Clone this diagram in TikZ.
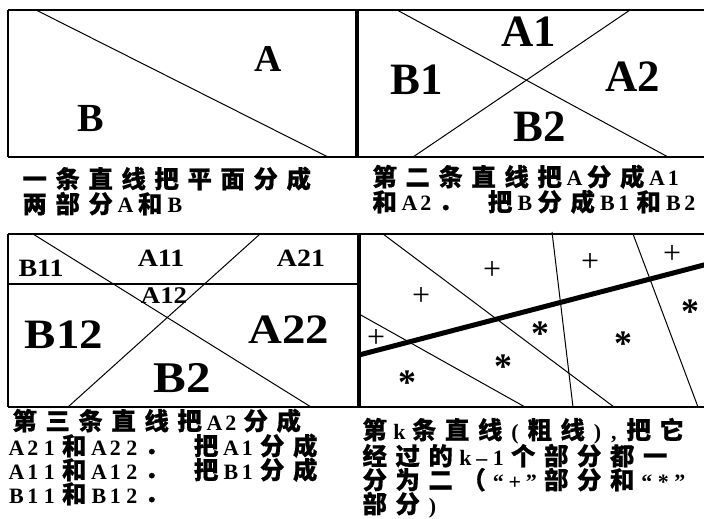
\documentclass[tikz,border=0pt]{standalone}
\usepackage{fontspec}
\setmainfont{Liberation Serif}
\newfontfamily\widefam[FakeStretch=1.12]{Liberation Serif}
\newfontfamily\cjkfam[BoldFeatures={FakeBold=0.6}]{Noto Sans CJK SC}
\newcommand\capline[1]{\caplinei#1\relax}
\def\caplinei#1{\ifx\relax#1\else\ifnum`#1>11000 \makebox[33bp]{\cjkfam\bfseries\fontsize{24.5}{24.5}\selectfont #1}\else\makebox[16.5bp]{\bfseries\fontsize{22}{22}\selectfont #1}\fi\expandafter\caplinei\fi}
\tikzset{
  border/.style={line width=1.6bp},
  divline/.style={line width=1bp},
  heavy/.style={line width=5bp},
  sepline/.style={line width=3.5bp},
  biglab/.style={font=\bfseries\fontsize{#1}{#1}\selectfont, anchor=base, inner sep=0},
  widelab/.style={font=\widefam\bfseries\fontsize{#1}{#1}\selectfont, anchor=base, inner sep=0},
  caption/.style={font=\fontsize{24}{24}\selectfont, anchor=base west, inner sep=0},
  plus/.style={font=\fontsize{32}{32}\selectfont, inner sep=0},
  star/.style={font=\bfseries\fontsize{36}{36}\selectfont, inner sep=0, yshift=-5bp},
}
\begin{document}
\begin{tikzpicture}[x=1bp,y=-1bp]
\useasboundingbox (0,0) rectangle (704,519);
% ---------- frames ----------
\draw[border] (8,10) -- (704,10);
\draw[border] (8,157) -- (704,157);
\draw[border] (8,10) -- (8,157);
\draw[sepline] (357,10) -- (357,157);
\draw[border] (8,234) -- (704,234);
\draw[border] (8,407) -- (704,407);
\draw[border] (8,234) -- (8,407);
\draw[sepline] (359,234) -- (359,407);
\draw[border] (8,284) -- (357,284);
% ---------- panel 1 ----------
\coordinate (p1a) at (36,10); \coordinate (p1b) at (328,157);
\draw[divline] (p1a) -- (p1b);
\node[biglab=38] (lA) at (268,72) {A};
\node[biglab=40] (lB) at (91,132) {B};
% ---------- panel 2 ----------
\coordinate (p2a) at (397,10); \coordinate (p2b) at (668,157);
\coordinate (p2c) at (630,10); \coordinate (p2d) at (413,157);
\draw[divline] (p2a) -- (p2b);
\draw[divline] (p2c) -- (p2d);
\node[biglab=45] (lA1) at (529,47) {A1};
\node[biglab=45] (lB1) at (417,95) {B1};
\node[biglab=45] (lA2) at (633,92) {A2};
\node[biglab=45] (lB2) at (540,142) {B2};
% ---------- panel 3 ----------
\coordinate (p3a) at (33,234); \coordinate (p3b) at (311,407);
\coordinate (p3c) at (260,234); \coordinate (p3d) at (68,407);
\draw[divline] (p3a) -- (p3b);
\draw[divline] (p3c) -- (p3d);
\node[widelab=25] (lB11) at (41,277) {B11};
\node[widelab=25] (lA11) at (161,267) {A11};
\node[widelab=25] (lA21) at (301,267) {A21};
\node[widelab=24] (lA12) at (164,303) {A12};
\node[widelab=42] (lB12) at (64,348) {B12};
\node[widelab=42] (lA22) at (289,343) {A22};
\node[widelab=44] (lB2b) at (182,392) {B2};
% ---------- panel 4 ----------
\coordinate (k1) at (359,355); \coordinate (k2) at (710,263.4);
\coordinate (a1) at (383,234); \coordinate (a2) at (614,407);
\coordinate (b1) at (359,314); \coordinate (b2) at (525,407);
\coordinate (c1) at (552,232); \coordinate (c2) at (573,407);
\coordinate (d1) at (633,234); \coordinate (d2) at (698,407);
\draw[divline] (a1) -- (a2);
\draw[divline] (b1) -- (b2);
\draw[divline] (c1) -- (c2);
\draw[divline] (d1) -- (d2);
\draw[heavy] (k1) -- (k2);
\node[plus] (pl1) at (492,270) {+};
\node[plus] (pl2) at (421,296) {+};
\node[plus] (pl3) at (590,262) {+};
\node[plus] (pl4) at (672,254) {+};
\node[plus] (pl5) at (376,338) {+};
\node[star] (st1) at (540,329) {*};
\node[star] (st2) at (503,362) {*};
\node[star] (st3) at (407,378) {*};
\node[star] (st4) at (623,339) {*};
\node[star] (st5) at (690,307) {*};
% ---------- captions ----------
\node[caption] (c1a) at (18,188) {\capline{一条直线把平面分成}};
\node[caption] (c1b) at (18,213) {\capline{两部分A和B}};
\node[caption] (c2a) at (368,186) {\capline{第二条直线把A分成A1}};
\node[caption] (c2b) at (368,211) {\capline{和A2．~把B分成B1和B2}};
\node[caption] (c3a) at (8,430) {\capline{第三条直线把A2分成}};
\node[caption] (c3b) at (8,455) {\capline{A21和A22．~把A1分成}};
\node[caption] (c3c) at (8,479) {\capline{A11和A12．~把B1分成}};
\node[caption] (c3d) at (8,503) {\capline{B11和B12．}};
\node[caption] (c4a) at (358,439) {\capline{第k条直线(粗线),把它}};
\node[caption] (c4b) at (358,465) {\capline{经过的k–1个部分都一}};
\node[caption] (c4c) at (358,489) {\capline{分为二（“+”部分和“*”}};
\node[caption] (c4d) at (358,513) {\capline{部分)}};
\end{tikzpicture}
\end{document}
